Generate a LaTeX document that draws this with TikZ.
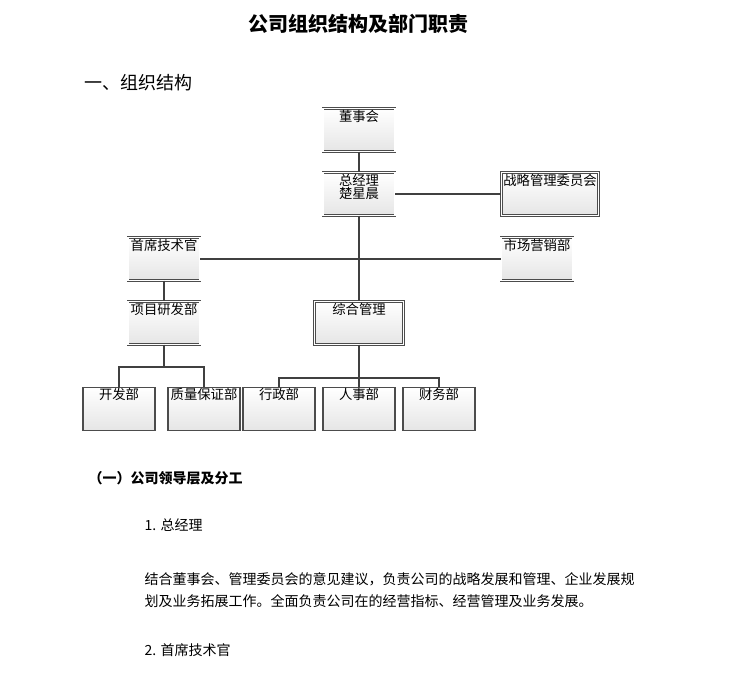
\documentclass[tikz,border=0pt]{standalone}
\usepackage{fontspec}
\setmainfont{Noto Sans CJK SC}
\usetikzlibrary{positioning}
\tikzstyle{block} = [minimum width=54pt, minimum height=32pt, rectangle, draw=black!70, top color=white, bottom color=black!10, inner sep=0pt]
\tikzstyle{unit} = [block, double, double distance=1.2pt]
\tikzstyle{dept} = [block, thick]
\tikzstyle{caption} = [font=\fontsize{10}{12}\selectfont, align=center, inner sep=1pt]
\tikzstyle{link} = [draw=black!75, thick]
\tikzstyle{para} = [anchor=west, font=\fontsize{10.5}{13}\selectfont]
\tikzset{boxtext/.style={label={[caption, anchor=north]north:{#1}}}}

\begin{document}
\begin{tikzpicture}[x=0.75pt, y=-0.75pt]
    \useasboundingbox (0,0) rectangle (737,675);
    \fill[white] (0,0) rectangle (737,675);

    \node (title) at (358,24) {\fontsize{15}{18}\selectfont\bfseries 公司组织结构及部门职责};
    \node (section) [anchor=west] at (80,83) {\fontsize{13.5}{16}\selectfont 一、组织结构};

    \node (board) [unit, boxtext={董事会}] at (359,130) {};
    \node (ceo) [unit, boxtext={总经理\\[-2pt]楚星晨}] at (359,194) {};
    \node (strategy) [unit, minimum width=73pt, boxtext={战略管理委员会}] at (550,194) {};
    \node (cto) [unit, boxtext={首席技术官}] at (164,259) {};
    \node (market) [unit, boxtext={市场营销部}] at (537,259) {};
    \node (rnd) [unit, boxtext={项目研发部}] at (164,323) {};
    \node (admin) [unit, minimum width=67pt, boxtext={综合管理}] at (359,323) {};

    \foreach \n/\x/\t in {dev/119/开发部, qa/204/质量保证部, office/279/行政部, hr/359/人事部, fin/439/财务部} {
        \node (\n) [dept, boxtext={\t}] at (\x,409) {};
    }

    \draw [link] (board) -- (ceo);
    \draw [link] (ceo) -- (strategy);
    \draw [link] (ceo) -- (admin);
    \draw [link] (cto) -- (market);
    \draw [link] (cto) -- (rnd);
    \coordinate (rnd split) at (164,367);
    \coordinate (admin split) at (359,378);
    \draw [link] (rnd) -- (rnd split) -| (dev);
    \draw [link] (rnd split) -| (qa);
    \draw [link] (admin) -- (admin split) -| (office);
    \draw [link] (admin split) -- (hr);
    \draw [link] (admin split) -| (fin);

    \node (heading) [para, font=\fontsize{10.5}{13}\selectfont\bfseries] at (84,478) {（一）公司领导层及分工};
    \node (item one) [para] at (140,525) {1. 总经理};
    \node (text one) [para, align=left] at (140,590) {结合董事会、管理委员会的意见建议，负责公司的战略发展和管理、企业发展规\\[3pt]划及业务拓展工作。全面负责公司在的经营指标、经营管理及业务发展。};
    \node (item two) [para] at (140,650) {2. 首席技术官};
\end{tikzpicture}
\end{document}
